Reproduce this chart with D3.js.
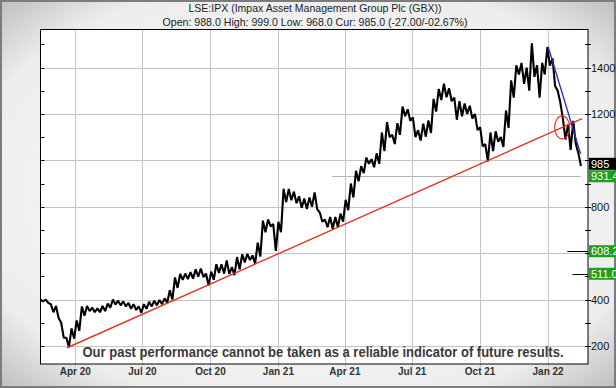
<!DOCTYPE html>
<html lang="en">
<head>
<meta charset="UTF-8">
<title>LSE:IPX</title>
<script src="https://d3js.org/d3.v7.min.js"></script>
<style>
  html, body { margin: 0; padding: 0; background: #fff; }
  svg { display: block; font-family: Arial, "Liberation Sans", sans-serif; }
</style>
</head>
<body>
<svg id="chart" width="616" height="388"></svg>
<script>
// Weekly high / low (weeks ending on Fridays, from 14 Feb 2020)
const firstWeek = "2020-02-14";
const lastWeek = "2022-02-11";
const weekHigh = [400, 400, 380, 372, 300, 235, 275, 310, 370, 372, 365, 362, 372, 382, 400, 395, 392, 385, 380, 370,
  380, 390, 395, 398, 405, 440, 495, 510, 512, 518, 530, 533, 512, 520, 552, 552, 568, 540, 583, 595,
  597, 590, 645, 740, 745, 725, 735, 877, 877, 865, 845, 835, 840, 862, 775, 745, 756, 756, 770, 830,
  900, 955, 975, 1012, 1005, 1030, 1120, 1165, 1110, 1160, 1232, 1220, 1185, 1130, 1158, 1172, 1265, 1308, 1330, 1310,
  1270, 1255, 1245, 1235, 1200, 1143, 1070, 1120, 1125, 1100, 1215, 1345, 1410, 1420, 1400, 1505, 1410, 1420, 1488, 1440,
  1300, 1180, 1155, 1170, 1030];
const weekLow = [392, 385, 345, 320, 235, 195, 232, 265, 330, 350, 345, 345, 350, 365, 378, 375, 370, 360, 355, 343,
  360, 370, 375, 380, 385, 400, 450, 485, 488, 490, 498, 497, 460, 485, 515, 512, 510, 505, 530, 560,
  570, 555, 585, 690, 715, 610, 690, 820, 828, 815, 795, 790, 800, 790, 735, 712, 705, 712, 735, 785,
  840, 910, 945, 985, 970, 985, 1040, 1100, 1070, 1110, 1190, 1170, 1100, 1085, 1102, 1118, 1210, 1260, 1272, 1255,
  1175, 1190, 1200, 1180, 1130, 1060, 995, 1040, 1080, 1058, 1140, 1270, 1370, 1330, 1300, 1360, 1270, 1370, 1408, 1320,
  1250, 1090, 1045, 1070, 975];

// trend lines drawn on the chart
const supportLine = [["2020-03-21", 192], ["2022-02-16", 1180]];
const resistLine = [["2022-01-01", 1490], ["2022-02-14", 1028]];
const circleAt = ["2022-01-20", 1142];

// price levels on the right side
const levelValues = [985, 931.4, 608.2, 511.0];
const levelLabels = ["985", "931.4", "608.2", "511.0"];
const levelColors = ["#000000", "#1f9e1f", "#1f9e1f", "#1f9e1f"];
const levelStart = ["2021-03-15", "2021-03-15", "2022-01-27", "2022-02-03"];
const axisLabels = [200, 400, 800, 1200, 1400];

const title1 = "LSE:IPX (Impax Asset Management Group Plc (GBX))";
const title2 = "Open: 988.0 High: 999.0 Low: 968.0 Cur: 985.0 (-27.00/-02.67%)";
const disclaimer = "Our past performance cannot be taken as a reliable indicator of future results.";

const parse = d3.utcParse("%Y-%m-%d");
const W = 616, H = 388;
const plot = { left: 40.5, right: 588, top: 29.5, bottom: 364 };

const svg = d3.select("#chart");
const defs = svg.append("defs");
const grad = defs.append("radialGradient").attr("id", "bg")
  .attr("cx", "50%").attr("cy", "50%").attr("r", "72%");
grad.append("stop").attr("offset", "0%").attr("stop-color", "#ffffff");
grad.append("stop").attr("offset", "78%").attr("stop-color", "#ededed");
grad.append("stop").attr("offset", "100%").attr("stop-color", "#bababa");

svg.append("rect").attr("width", W).attr("height", H).attr("fill", "url(#bg)");
svg.append("rect").attr("x", 1).attr("y", 1).attr("width", W - 2).attr("height", H - 2)
  .attr("fill", "none").attr("stroke", "#7c7c7c").attr("stroke-width", 2);

const x = d3.scaleUtc()
  .domain([parse("2020-02-14"), parse("2022-02-24")])
  .range([plot.left, plot.right]);
const y = d3.scaleLinear()
  .domain([122, 1564])
  .range([plot.bottom, plot.top]);

// plot background
svg.append("rect")
  .attr("x", plot.left).attr("y", plot.top)
  .attr("width", plot.right - plot.left).attr("height", plot.bottom - plot.top)
  .attr("fill", "#fff");

const clip = defs.append("clipPath").attr("id", "clip");
clip.append("rect")
  .attr("x", plot.left).attr("y", plot.top)
  .attr("width", plot.right - plot.left).attr("height", plot.bottom - plot.top);

// grid
const months = d3.utcMonth.every(3).range(x.domain()[0], x.domain()[1]);
svg.append("g").selectAll("line").data(months).join("line")
  .attr("x1", d => Math.round(x(d)) + 0.5).attr("x2", d => Math.round(x(d)) + 0.5)
  .attr("y1", plot.top).attr("y2", plot.bottom + 3)
  .attr("stroke", "#c4c4c4");
svg.append("g").selectAll("line").data(y.ticks(8)).join("line")
  .attr("x1", plot.left).attr("x2", plot.right)
  .attr("y1", d => Math.round(y(d)) + 0.5).attr("y2", d => Math.round(y(d)) + 0.5)
  .attr("stroke", "#c4c4c4");

// minor ticks on both sides
const minor = y.ticks(16);
svg.append("g").selectAll("line").data(minor).join("line")
  .attr("x1", plot.left).attr("x2", plot.left + 4)
  .attr("y1", d => Math.round(y(d)) + 0.5).attr("y2", d => Math.round(y(d)) + 0.5)
  .attr("stroke", "#000");
svg.append("g").selectAll("line").data(minor).join("line")
  .attr("x1", plot.right - 3).attr("x2", plot.right + 3)
  .attr("y1", d => Math.round(y(d)) + 0.5).attr("y2", d => Math.round(y(d)) + 0.5)
  .attr("stroke", "#000");

// level lines
const levels = levelValues.map((v, i) => ({ v, label: levelLabels[i], color: levelColors[i], start: parse(levelStart[i]) }));
svg.append("g").selectAll("line").data(levels.slice(1)).join("line")
  .attr("x1", d => x(d.start)).attr("x2", (d, i) => i === 0 ? x(parse("2022-02-14")) : plot.right)
  .attr("y1", d => Math.round(y(d.v)) + 0.5).attr("y2", d => Math.round(y(d.v)) + 0.5)
  .attr("stroke", (d, i) => i === 0 ? "#b4b4b4" : "#000");

// price: zigzag through each week's high and low
const weeks = d3.utcFriday.range(parse(firstWeek), d3.utcDay.offset(parse(lastWeek), 1));
const zig = [];
weeks.forEach((d, i) => {
  zig.push([d, weekHigh[i]]);
  zig.push([d3.utcHour.offset(d, 84), weekLow[i]]);
});
const g = svg.append("g").attr("clip-path", "url(#clip)");
g.append("path")
  .datum(zig)
  .attr("fill", "none")
  .attr("stroke", "#000")
  .attr("stroke-width", 2.1)
  .attr("stroke-linejoin", "bevel")
  .attr("d", d3.line().x(d => x(d[0])).y(d => y(d[1])));

// trend lines
const line = d3.line().x(d => x(parse(d[0]))).y(d => y(d[1]));
g.append("path").attr("d", line(supportLine)).attr("stroke", "#e8331f").attr("stroke-width", 1.4).attr("fill", "none");
g.append("path").attr("d", line(resistLine)).attr("stroke", "#2a2ad0").attr("stroke-width", 1.4).attr("fill", "none");
g.append("ellipse")
  .attr("cx", x(parse(circleAt[0]))).attr("cy", y(circleAt[1]))
  .attr("rx", 7.5).attr("ry", 11.5)
  .attr("fill", "none").attr("stroke", "#e8331f").attr("stroke-width", 1.2);

// frame
svg.append("rect")
  .attr("x", plot.left).attr("y", plot.top)
  .attr("width", plot.right - plot.left).attr("height", plot.bottom - plot.top)
  .attr("fill", "none").attr("stroke", "#000");

// right axis labels
svg.append("g").selectAll("text").data(axisLabels).join("text")
  .attr("x", 591).attr("y", d => y(d) + 4)
  .attr("font-size", 11).attr("fill", "#111")
  .text(d => d);

const lv = svg.append("g").selectAll("g").data(levels).join("g");
lv.append("rect")
  .attr("x", 589).attr("y", d => y(d.v) - 6)
  .attr("width", 30).attr("height", 12)
  .attr("fill", d => d.color);
lv.append("text")
  .attr("x", 591).attr("y", d => y(d.v) + 4)
  .attr("font-size", 11).attr("fill", "#fff")
  .text(d => d.label);

// x labels
const fmt = d3.utcFormat("%b %y");
svg.append("g").selectAll("text").data(months).join("text")
  .attr("x", d => x(d)).attr("y", 375)
  .attr("text-anchor", "middle")
  .attr("font-size", 10).attr("fill", "#333")
  .attr("font-family", "'Liberation Sans Narrow', 'Arial Narrow', Arial, sans-serif")
  .attr("font-weight", "bold")
  .text(fmt);

// titles
svg.append("text").attr("x", 315).attr("y", 12).attr("text-anchor", "middle")
  .attr("font-size", 11).attr("fill", "#222")
  .attr("textLength", 253).attr("lengthAdjust", "spacingAndGlyphs")
  .text(title1);
svg.append("text").attr("x", 315).attr("y", 25.5).attr("text-anchor", "middle")
  .attr("font-size", 11).attr("fill", "#222")
  .attr("textLength", 305).attr("lengthAdjust", "spacingAndGlyphs")
  .text(title2);

svg.append("text").attr("x", 323).attr("y", 357).attr("text-anchor", "middle")
  .attr("font-size", 15).attr("font-weight", "bold").attr("fill", "#3a3a3a")
  .attr("font-family", "'Liberation Sans Narrow', 'Arial Narrow', Arial, sans-serif")
  .attr("textLength", 481).attr("lengthAdjust", "spacingAndGlyphs")
  .text(disclaimer);
</script>
</body>
</html>
